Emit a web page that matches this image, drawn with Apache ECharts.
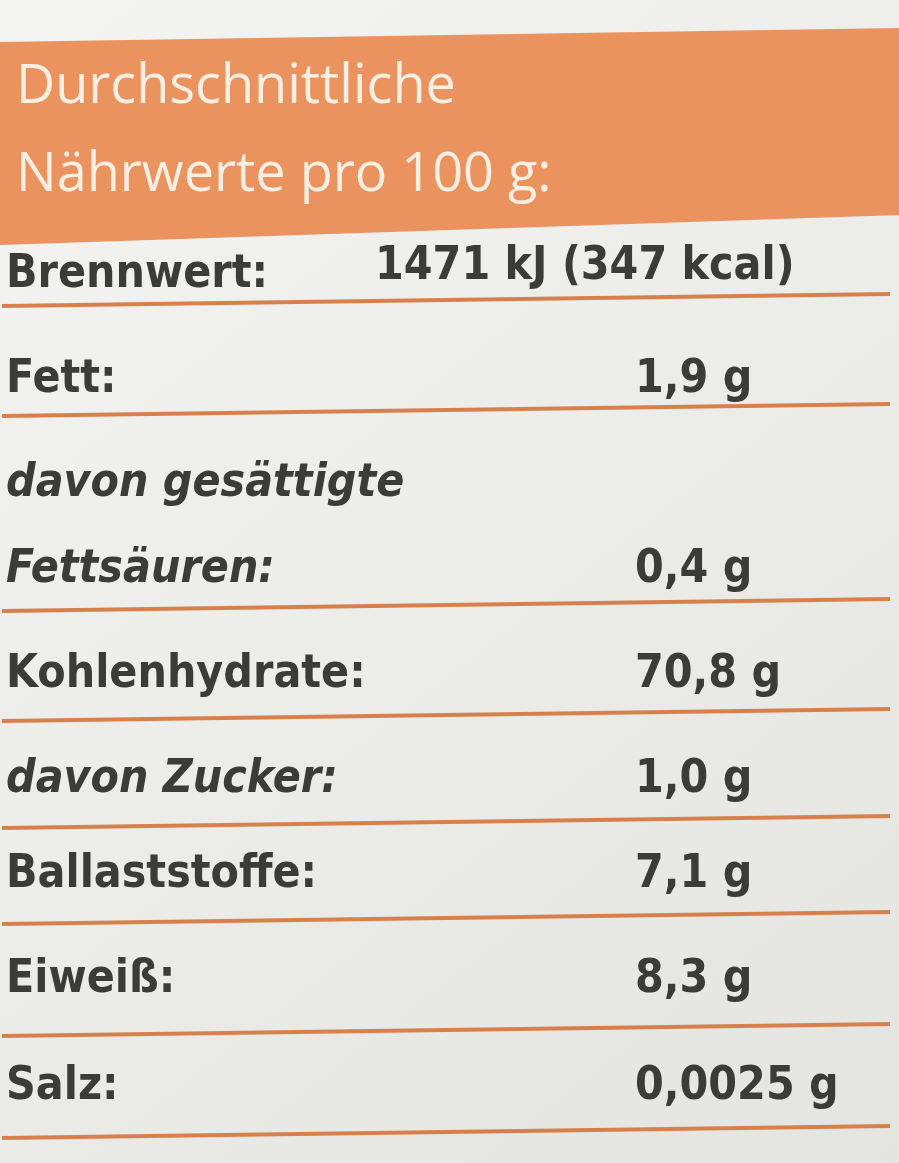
<!DOCTYPE html>
<html><head><meta charset="utf-8">
<script src="https://cdn.jsdelivr.net/npm/echarts@6/dist/echarts.min.js"></script>
<style>html,body{margin:0;padding:0;background:#ecebe8}#c{width:899px;height:1163px}</style>
</head><body><div id="c"></div>
<script>
const headerLines = ["Durchschnittliche", "Nährwerte pro 100 g:"];
const rowLabels = ["Brennwert:", "Fett:", "davon gesättigte\nFettsäuren:", "Kohlenhydrate:", "davon Zucker:", "Ballaststoffe:", "Eiweiß:", "Salz:"];
const rowItalic = [false, false, true, false, true, false, false, false];
const rowValues = ["1471 kJ (347 kcal)", "1,9 g", "0,4 g", "70,8 g", "1,0 g", "7,1 g", "8,3 g", "0,0025 g"];
const rowLineY = [300, 410, 605, 715, 822, 918, 1030, 1132];
const rowTextY = [300, 405, 595, 700, 805, 900, 1005, 1112];

const chart = echarts.init(document.getElementById('c'));
const font = '"Liberation Sans Narrow","DejaVu Sans Condensed","Open Sans",sans-serif';
const g = [];
g.push({type:'rect',shape:{x:0,y:0,width:899,height:1163},style:{fill:new echarts.graphic.LinearGradient(0,0,1,1,[{offset:0,color:'#f4f4f2'},{offset:1,color:'#e4e4e1'}])}});
g.push({type:'polygon',shape:{points:[[0,42],[899,28],[899,215],[0,245]]},style:{fill:'#eb935e'}});
headerLines.forEach((t,i)=>g.push({type:'text',style:{x:16,y:88+i*88,text:t,fill:'#fbeee2',font:'54px "Open Sans",sans-serif',verticalAlign:'middle'}}));
rowLabels.forEach((t,i)=>{
  const parts = t.split('\n');
  parts.forEach((p,k)=>{
    g.push({type:'text',style:{x:6,y:rowTextY[i]-(parts.length-1-k)*86,text:p,fill:'#3b3b37',
      font:(rowItalic[i]?'italic ':'')+'bold 46px '+font,verticalAlign:'bottom',lineHeight:50,align:'left'}});
  });
  g.push({type:'text',style:{x:i===0?375:635,y:rowTextY[i]-(i===0?8:0),text:rowValues[i],fill:'#3b3b37',
    font:'bold 46px '+font,verticalAlign:'bottom',lineHeight:50}});
  g.push({type:'line',shape:{x1:2,y1:rowLineY[i]+6,x2:890,y2:rowLineY[i]-6},style:{stroke:'#d8804b',lineWidth:4}});
});
chart.setOption({graphic:g});
</script></body></html>
